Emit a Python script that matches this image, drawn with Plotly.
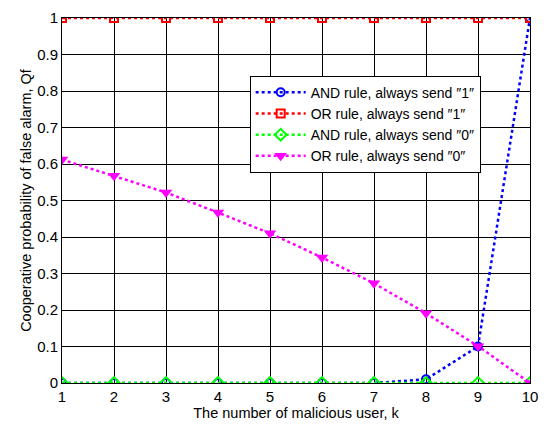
import plotly.graph_objects as go

k = [1, 2, 3, 4, 5, 6, 7, 8, 9, 10]
and_send1 = [0, 0, 0, 0, 0, 0, 0, 0.01, 0.1, 1.0]
or_send1 = [1, 1, 1, 1, 1, 1, 1, 1, 1, 1]
and_send0 = [0, 0, 0, 0, 0, 0, 0, 0, 0, 0]
or_send0 = [0.612, 0.568, 0.522, 0.467, 0.41, 0.344, 0.273, 0.191, 0.101, 0.0]

names = ["AND rule, always send ″1″", "OR rule, always send ″1″",
         "AND rule, always send ″0″", "OR rule, always send ″0″"]
ytick_vals = [0, 0.1, 0.2, 0.3, 0.4, 0.5, 0.6, 0.7, 0.8, 0.9, 1]
ytick_text = ["0", "0.1", "0.2", "0.3", "0.4", "0.5", "0.6", "0.7", "0.8", "0.9", "1"]

fig = go.Figure()
fig.add_trace(go.Scatter(x=k, y=and_send1, name=names[0], mode="lines+markers",
                         line=dict(color="#0000ff", width=2.5, dash="dot"),
                         marker=dict(symbol="circle-open", size=8, color="#0000ff", line=dict(width=2))))
fig.add_trace(go.Scatter(x=k, y=or_send1, name=names[1], mode="lines+markers",
                         line=dict(color="#ff0000", width=2.5, dash="dot"),
                         marker=dict(symbol="square-open", size=8, color="#ff0000", line=dict(width=2))))
fig.add_trace(go.Scatter(x=k, y=and_send0, name=names[2], mode="lines+markers",
                         line=dict(color="#00ff00", width=2.5, dash="dot"),
                         marker=dict(symbol="diamond-open", size=9, color="#00ff00", line=dict(width=2))))
fig.add_trace(go.Scatter(x=k, y=or_send0, name=names[3], mode="lines+markers",
                         line=dict(color="#ff00ff", width=2.5, dash="dot"),
                         marker=dict(symbol="triangle-down", size=11, color="#ff00ff")))

fig.update_layout(
    width=547, height=425,
    margin=dict(l=62, r=9, t=17, b=41),
    paper_bgcolor="white", plot_bgcolor="white",
    font=dict(family="Liberation Sans, Arial, sans-serif", size=15, color="black"),
    showlegend=True,
    legend=dict(x=0.401, y=0.842, xanchor="left", yanchor="top",
                bgcolor="white", bordercolor="black", borderwidth=1,
                font=dict(size=14), tracegroupgap=0, itemwidth=50),
)
fig.update_xaxes(range=[1, 10], tickvals=k, ticktext=[str(v) for v in k],
                 showgrid=True, gridcolor="black", gridwidth=1,
                 showline=True, linecolor="black", linewidth=1, mirror=True,
                 zeroline=False, ticks="", ticklen=0, tickfont=dict(size=15),
                 title=dict(text="The number of malicious user, k", font=dict(size=14.5), standoff=1))
fig.update_yaxes(range=[0, 1], tickvals=ytick_vals, ticktext=ytick_text,
                 showgrid=True, gridcolor="black", gridwidth=1,
                 showline=True, linecolor="black", linewidth=1, mirror=True,
                 zeroline=False, ticks="", ticklen=0, tickfont=dict(size=15),
                 title=dict(text="Cooperative probability of false alarm, Qf", font=dict(size=14.5), standoff=2))

fig.write_html("out.html")
